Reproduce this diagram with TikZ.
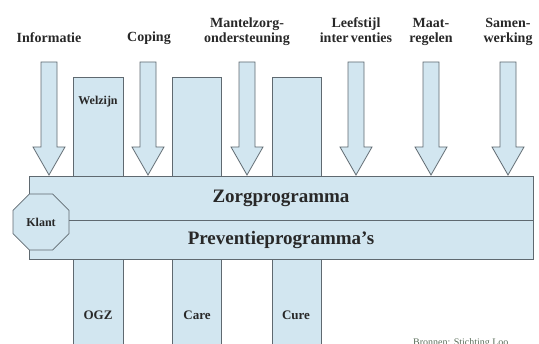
\documentclass[tikz,border=0pt]{standalone}
\usepackage{fontspec}
\setmainfont{Liberation Serif}
\usetikzlibrary{shapes.geometric}
\definecolor{boxfill}{RGB}{210,230,240}
\definecolor{boxline}{RGB}{95,105,112}
\definecolor{txt}{RGB}{40,40,40}
\definecolor{srctxt}{RGB}{90,110,90}
\tikzset{
  shapebox/.style={draw=boxline, fill=boxfill, line width=0.8pt},
  toplabel/.style={font=\bfseries\fontsize{14}{15}\selectfont, text=txt, align=center, inner sep=0pt},
  collabel/.style={font=\bfseries\fontsize{13}{14}\selectfont, text=txt, inner sep=0pt},
  bandlabel/.style={font=\bfseries\fontsize{19}{21}\selectfont, text=txt, inner sep=0pt},
  pijl/.style={shapebox},
}
\newcommand{\downarrowat}[2]{%
  \draw[pijl] (#1-8,62) -- (#1+8,62) -- (#1+8,147) -- (#1+16,147) -- (#1,175) -- (#1-16,147) -- (#1-8,147) -- cycle;
  \coordinate (#2) at (#1,62);}
\begin{document}
\begin{tikzpicture}[x=1pt,y=-1pt]
\useasboundingbox (0,0) rectangle (539,344);
\clip (0,0) rectangle (539,344);
% columns
\draw[shapebox] (73,346) -- (73,77) -- (123,77) -- (123,346);
\draw[shapebox] (172,346) -- (172,77) -- (221,77) -- (221,346);
\draw[shapebox] (272,346) -- (272,77) -- (321,77) -- (321,346);
\node[collabel] (welzijn) at (98,102) {\fontsize{12}{13}\selectfont Welzijn};
\node[collabel] (ogz) at (98,315) {OGZ};
\node[collabel] (care) at (197,315) {Care};
\node[collabel] (cure) at (296,315) {Cure};
% band
\node[shapebox, minimum width=504pt, minimum height=83pt, anchor=north west, inner sep=0pt] (band) at (29,176) {};
\coordinate (divl) at (29,220);
\coordinate (divr) at (533,220);
\draw[draw=boxline, line width=0.8pt] (divl) -- (divr);
\node[bandlabel] (zorgt) at (281,198) {Zorgprogramma};
\node[bandlabel] (prevt) at (281,240) {Preventieprogramma's};
% klant
\node[shapebox, regular polygon, regular polygon sides=8, minimum size=60.6pt, inner sep=0pt,
      font=\bfseries\fontsize{12}{13}\selectfont, text=txt] (klant) at (41,222) {Klant};
% arrows
\downarrowat{49}{a1}
\downarrowat{148}{a2}
\downarrowat{247}{a3}
\downarrowat{356}{a4}
\downarrowat{431}{a5}
\downarrowat{508}{a6}
% top labels
\node[toplabel] (l1) at (49,38) {Informatie};
\node[toplabel] (l2) at (149,38) {Coping};
\node[toplabel, anchor=base] (l3) at (247,43) {Mantelzorg-\\ondersteuning};
\node[toplabel, anchor=base] (l4) at (356,43) {Leefstijl\\inter\,venties};
\node[toplabel, anchor=base] (l5) at (431,43) {Maat-\\regelen};
\node[toplabel, anchor=base] (l6) at (508,43) {Samen-\\werking};
% source (cut off at the lower edge, as in the reference)
\node[font=\fontsize{10}{11}\selectfont, text=srctxt, anchor=north west, inner sep=0pt] (src) at (413,338) {Bronnen: Stichting Loo};
\end{tikzpicture}
\end{document}
